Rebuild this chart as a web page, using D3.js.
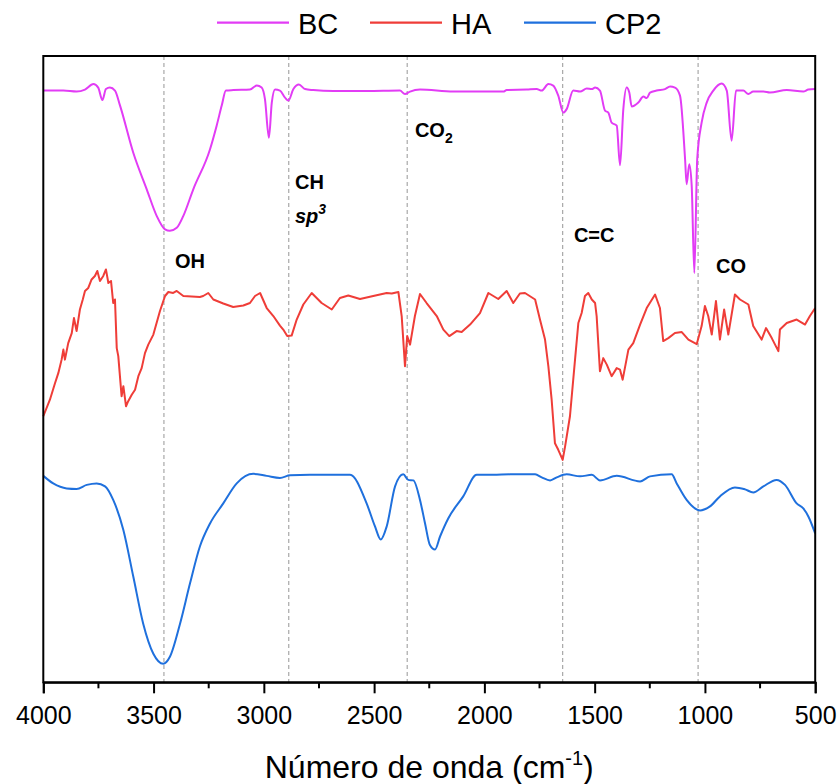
<!DOCTYPE html>
<html><head><meta charset="utf-8">
<script src="https://cdn.jsdelivr.net/npm/d3@7"></script>
<style>
body{margin:0;background:#fff;}
svg{display:block;font-family:"Liberation Sans",Arial,Helvetica,sans-serif;}
</style></head>
<body><div id="chart"></div>
<script>
// ---- data (wavenumber cm^-1, transmittance a.u.) ----
const bcWn = [4000,3909,3849,3811,3773,3751,3732,3716,3698,3675,3652,3592,3531,3486,3448,3426,3395,3365,3320,3244,3214,3191,3172,3138,3063,3032,3010,2995,2977,2964,2949,2927,2904,2889,2866,2841,2813,2776,2685,2534,2383,2360,2337,2292,2141,1914,1899,1808,1763,1740,1710,1688,1665,1642,1627,1597,1566,1536,1513,1498,1476,1453,1438,1423,1400,1385,1370,1355,1343,1332,1302,1279,1264,1249,1219,1181,1158,1136,1113,1090,1083,1071,1060,1048,1035,1015,992,962,924,901,879,859,826,803,781,735,705,629,554,531,500];
const bcT  = [118.1,118.1,117.9,118.3,119.4,118.7,116.2,118.4,118.7,118.1,115.1,105.7,98.4,93.1,90.4,90.1,90.7,93.1,98.4,106.4,111.1,115.1,118.1,118.2,118.3,119.1,118.7,116.4,108.7,115.7,118.3,118.1,116.7,116.1,118.4,119.3,118.4,118.2,118.0,118.0,118.1,117.4,117.9,118.3,117.9,117.9,118.2,118.3,118.4,118.1,119.4,119.1,117.1,113.7,114.4,118.1,117.9,118.5,118.4,118.7,118.1,114.1,113.7,111.7,111.1,103.2,114.4,118.7,117.7,114.9,115.7,116.9,116.6,117.7,118.1,118.4,118.9,118.7,117.1,104.4,99.4,103.4,99.1,81.7,104.4,111.7,115.7,118.1,119.5,118.1,108.1,118.1,118.1,117.4,117.9,117.9,117.7,118.2,117.9,118.3,118.4];

const haWn = [4000,3970,3947,3932,3917,3909,3902,3887,3871,3861,3849,3834,3821,3811,3796,3781,3766,3755,3743,3728,3716,3705,3693,3683,3675,3667,3660,3645,3637,3625,3615,3599,3584,3569,3554,3539,3524,3501,3471,3448,3433,3411,3395,3365,3290,3275,3252,3229,3184,3139,3093,3063,3040,3017,2987,2957,2927,2912,2894,2874,2851,2821,2783,2738,2692,2655,2617,2564,2504,2443,2420,2390,2375,2360,2350,2337,2315,2292,2262,2216,2186,2159,2126,2103,2065,2020,1982,1937,1899,1869,1839,1816,1770,1748,1725,1710,1695,1680,1665,1645,1634,1612,1589,1574,1559,1544,1529,1513,1498,1491,1476,1461,1445,1423,1400,1385,1373,1347,1325,1294,1264,1226,1204,1189,1166,1136,1105,1075,1037,1015,1000,985,969,950,932,913,894,864,841,803,781,743,723,697,667,660,629,584,546,524,500];
const haT  = [53.1,56.4,59.7,61.7,64.4,66.4,64.4,67.7,69.7,72.7,70.1,74.4,76.4,78.1,78.7,80.4,81.1,82.1,80.1,81.1,82.4,79.7,80.1,75.7,76.4,66.7,65.1,57.1,59.1,55.1,56.1,57.4,58.4,61.1,62.7,65.7,67.4,69.4,74.1,77.1,77.9,77.7,78.1,77.1,76.9,77.1,77.7,76.4,75.6,74.9,75.2,75.7,77.1,77.7,74.7,73.1,71.2,70.4,69.1,69.2,72.4,75.4,77.7,75.7,74.4,76.7,77.2,76.5,77.1,77.7,77.6,77.9,73.1,63.1,69.1,67.4,73.1,77.5,75.7,73.1,70.4,69.1,70.1,69.9,71.4,73.7,77.7,76.5,78.1,75.7,77.6,77.7,76.4,72.4,68.4,63.1,56.4,47.7,46.4,44.4,47.1,53.1,64.4,71.7,73.7,77.1,77.7,76.4,75.7,73.1,62.1,64.7,63.4,61.1,62.7,62.4,60.4,66.4,67.7,71.4,74.7,77.4,74.7,68.1,68.7,69.7,69.9,68.4,67.5,71.1,75.1,73.1,69.4,76.1,68.4,74.4,69.4,77.4,76.4,75.4,71.1,68.4,70.7,68.7,66.1,70.4,71.7,72.4,71.4,73.1,74.7];

const cp2Wn = [4000,3955,3894,3849,3803,3758,3720,3683,3637,3592,3547,3501,3456,3426,3380,3335,3290,3244,3184,3123,3048,2987,2927,2881,2791,2609,2534,2496,2470,2443,2405,2368,2345,2322,2292,2269,2247,2224,2201,2164,2096,2035,1960,1884,1770,1740,1702,1672,1627,1566,1513,1476,1400,1294,1249,1151,1128,1083,1022,977,932,864,818,781,735,675,637,584,554,531,500];
const cp2T  = [41.2,39.7,38.7,38.6,39.4,39.7,39.1,36.4,30.4,21.1,11.7,5.7,3.7,5.1,11.7,19.7,27.1,31.7,35.7,39.7,41.6,41.2,40.8,41.3,41.4,41.4,35.7,31.1,28.5,31.1,39.1,41.5,40.4,40.3,36.4,31.7,27.4,26.5,29.1,32.7,37.1,41.4,41.4,41.5,41.5,40.9,40.3,40.9,41.5,41.1,41.4,40.3,41.2,40.1,41.1,41.5,39.7,36.4,34.3,35.1,37.1,38.9,38.5,37.9,39.1,40.4,39.4,35.7,34.7,33.1,29.7];

const seriesNames  = ["BC","HA","CP2"];
const seriesColors = ["#e23cf5","#ef3d38","#1f70dd"];

const majorTicks = [4000,3500,3000,2500,2000,1500,1000,500];
const minorTicks = [3750,3250,2750,2250,1750,1250,750];

const bandWn     = [3453,2887,2350,1645,1031];
const bandLabels = ["OH","CH","CO","C=C","CO"];
const labelWn    = [3403,2859,2315,1594,950];
const labelT     = [82.7,98.4,108.9,87.9,81.7];

// ---- layout ----
const W = 840, H = 784;
const m = {left:43.3, right:840-815.2, top:56, bottom:784-682.3};
const svg = d3.select("#chart").append("svg").attr("width",W).attr("height",H);

const x = d3.scaleLinear().domain([4000,500]).range([m.left, W-m.right]);
const y = d3.scaleLinear().domain([0,125]).range([H-m.bottom, m.top]);

// band dashed lines
svg.append("g").selectAll("line").data(bandWn).join("line")
  .attr("x1",d=>x(d)).attr("x2",d=>x(d))
  .attr("y1",y(125)).attr("y2",y(0))
  .attr("stroke","#a0a0a0").attr("stroke-width",1.1).attr("stroke-dasharray","4,3");

// lines
const series = [
  {wn:bcWn, t:bcT, curve:d3.curveMonotoneX},
  {wn:haWn, t:haT, curve:d3.curveLinear},
  {wn:cp2Wn, t:cp2T, curve:d3.curveMonotoneX}
];
series.forEach((s,i)=>{
  const pts = s.wn.map((w,j)=>[w,s.t[j]]);
  const line = d3.line().x(d=>x(d[0])).y(d=>y(d[1])).curve(s.curve);
  svg.append("path").datum(pts).attr("d",line)
    .attr("fill","none").attr("stroke",seriesColors[i])
    .attr("stroke-width",2).attr("stroke-linejoin","round");
});

// frame
svg.append("rect").attr("x",x(4000)).attr("y",y(125))
  .attr("width",x(500)-x(4000)).attr("height",y(0)-y(125))
  .attr("fill","none").attr("stroke","#000").attr("stroke-width",2);

// x axis
const gx = svg.append("g").attr("transform",`translate(0,${y(0)})`);
gx.call(d3.axisBottom(x).tickValues(majorTicks).tickSize(11).tickPadding(13).tickFormat(d3.format("d")));
gx.select(".domain").attr("stroke-width",2);
gx.selectAll(".tick line").attr("stroke-width",2);
gx.selectAll(".tick text").attr("font-size",25).attr("font-family",'"Liberation Sans",Arial,sans-serif').attr("fill","#000");
const gm = svg.append("g").attr("transform",`translate(0,${y(0)})`);
gm.selectAll("line").data(minorTicks).join("line")
  .attr("x1",d=>x(d)).attr("x2",d=>x(d)).attr("y1",0).attr("y2",6)
  .attr("stroke","#000").attr("stroke-width",2);

// axis title
const title = svg.append("text").attr("x",(x(4000)+x(500))/2).attr("y",778)
  .attr("text-anchor","middle").attr("font-size",32).attr("fill","#000");
title.append("tspan").text("Número de onda (cm");
title.append("tspan").text("-1").attr("font-size",20).attr("dy",-13);
title.append("tspan").text(")").attr("dy",13);

// band labels
const lab = svg.append("g").attr("font-weight","bold").attr("font-size",20).attr("fill","#000");
bandLabels.forEach((t,i)=>{
  const tx = lab.append("text").attr("x",x(labelWn[i])).attr("y",y(labelT[i]));
  tx.append("tspan").text(t);
  if(i===2){ tx.append("tspan").text("2").attr("font-size",14).attr("dy",6); }
});
const sp = lab.append("text").attr("x",x(labelWn[1])).attr("y",y(labelT[1])+33.3).attr("font-style","italic");
sp.append("tspan").text("sp");
sp.append("tspan").text("3").attr("font-size",14).attr("dy",-9);

// legend
const legX = [217,370,524];
const leg = svg.append("g");
seriesNames.forEach((n,i)=>{
  leg.append("line").attr("x1",legX[i]).attr("x2",legX[i]+72).attr("y1",22.7).attr("y2",22.7)
    .attr("stroke",seriesColors[i]).attr("stroke-width",2.2);
  leg.append("text").attr("x",legX[i]+81).attr("y",33.5).attr("font-size",29).attr("fill","#000").text(n);
});
</script></body></html>
